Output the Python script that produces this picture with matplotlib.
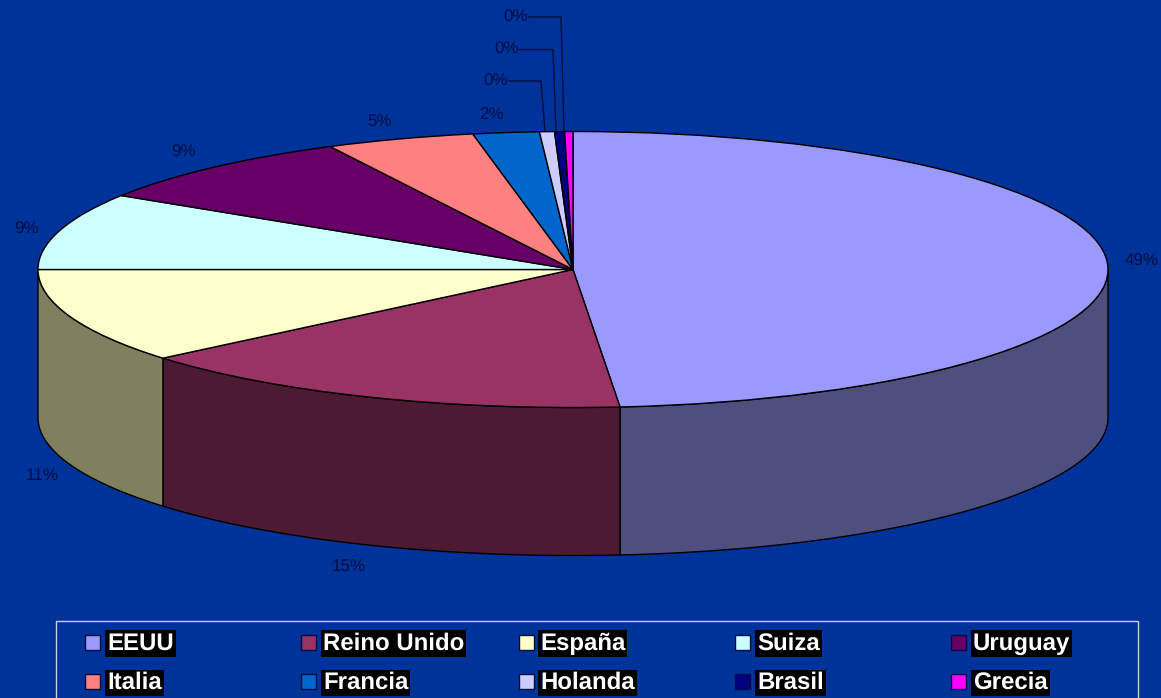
import numpy as np
import matplotlib
matplotlib.use('Agg')
import matplotlib.pyplot as plt
from matplotlib.patches import Polygon, Rectangle

countries = ['EEUU', 'Reino Unido', 'España', 'Suiza', 'Uruguay',
             'Italia', 'Francia', 'Holanda', 'Brasil', 'Grecia']
shares = [48.6, 15.3, 11.1, 9.0, 8.5, 4.5, 2.0, 0.45, 0.3, 0.25]
share_labels = ['49%', '15%', '11%', '9%', '9%', '5%', '2%', '0%', '0%', '0%']
top_colors = ['#9999FF', '#993366', '#FFFFCC', '#CCFFFF', '#660066',
              '#FF8080', '#0066CC', '#CCCCFF', '#000080', '#FF00FF']
side_colors = ['#4F4F7F', '#4D1A33', '#80805F', '#668080', '#330033',
               '#804040', '#003366', '#666680', '#000040', '#800080']

plt.rcParams['font.family'] = ['Liberation Sans', 'DejaVu Sans']
plt.rcParams['text.hinting'] = 'no_hinting'
plt.rcParams['text.hinting_factor'] = 1

W, H = 1161, 698
bg = '#003399'
label_color = '#000D40'

# ellipse of the pie top and height of the wall, in pixels
cx, cy, rx, ry, depth = 573, 269.5, 535, 138, 148

fig = plt.figure(figsize=(W / 100, H / 100), dpi=100, facecolor=bg)
ax = fig.add_axes([0, 0, 1, 1])
ax.set_xlim(0, W)
ax.set_ylim(H, 0)
ax.axis('off')

# walls, only the front half of the pie shows
edges = np.concatenate(([0], np.cumsum(shares))) / np.sum(shares) * 2 * np.pi
for i in range(len(shares)):
    a0, a1 = max(edges[i], np.pi / 2), min(edges[i + 1], 3 * np.pi / 2)
    if a1 <= a0:
        continue
    t = np.linspace(a0, a1, 80)
    x = cx + rx * np.sin(t)
    y = cy - ry * np.cos(t)
    pts = np.concatenate((np.column_stack((x, y)),
                          np.column_stack((x, y + depth))[::-1]))
    ax.add_patch(Polygon(pts, closed=True, facecolor=side_colors[i],
                         edgecolor='black', linewidth=1))

# top of the pie: squashed pie in its own axes
pie_ax = fig.add_axes([(cx - rx) / W, (H - cy - ry) / H, 2 * rx / W, 2 * ry / H])
pie_ax.pie(shares, colors=top_colors, startangle=90, counterclock=False,
           radius=1, wedgeprops={'edgecolor': 'black', 'linewidth': 1, 'clip_on': False})
pie_ax.set_aspect('auto')
pie_ax.set_xlim(-1, 1)
pie_ax.set_ylim(-1, 1)
pie_ax.patch.set_alpha(0)

# percent labels
label_pos = [(1142, 261), (349, 566), (42, 476), (26, 229), (183, 152),
             (380, 121), (491, 115), (496, 81), (507, 49.5), (516, 17)]
for lab, (x, y) in zip(share_labels, label_pos):
    ax.text(x, y, lab, color=label_color, fontsize=12, ha='center', va='center')

# leader lines of the small slices
leaders = [((509, 541, 545), 81), ((520, 553, 556), 49.5), ((529, 561, 564), 17)]
for xs, y in leaders:
    ax.plot(xs, [y, y, 131], color=label_color, linewidth=1)

# legend
ax.add_patch(Rectangle((55.5, 620.5), 1082, 100, facecolor='none',
                       edgecolor='#C8D0E8', linewidth=1, clip_on=True))
swatch_x = [85, 301, 519, 735, 951]
text_x = [107, 323, 540, 757, 973]
row_y = [642, 681.5]
for i, name in enumerate(countries):
    col, row = i % 5, i // 5
    ax.add_patch(Rectangle((swatch_x[col], row_y[row] - 7.5), 15, 15,
                           facecolor=top_colors[i], edgecolor='#000D40', linewidth=1))
    ax.text(text_x[col], row_y[row] - 1, name, color='white', fontsize=17, fontweight='bold',
            ha='left', va='center_baseline',
            bbox={'facecolor': 'black', 'edgecolor': 'none', 'pad': 1.5})

fig.savefig('out.png', dpi=100, facecolor=bg)
